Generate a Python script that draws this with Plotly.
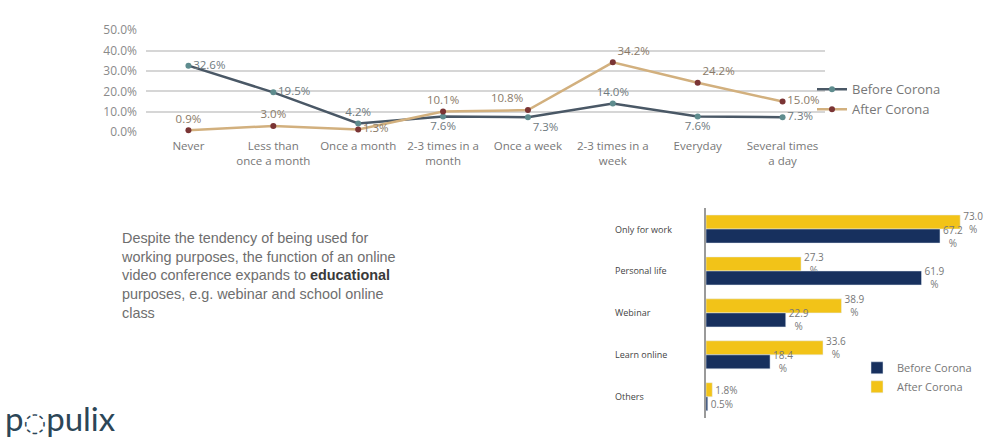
import plotly.graph_objects as go

W, H = 995, 444

# ---------------- data ----------------
freq_categories = ["Never", "Less than<br>once a month", "Once a month", "2-3 times in a<br>month",
                   "Once a week", "2-3 times in a<br>week", "Everyday", "Several times<br>a day"]
freq_before = [32.6, 19.5, 4.2, 7.6, 7.3, 14.0, 7.6, 7.3]
freq_after = [0.9, 3.0, 1.3, 10.1, 10.8, 34.2, 24.2, 15.0]
freq_ticks = [0, 10, 20, 30, 40, 50]

use_categories = ["Only for work", "Personal life", "Webinar", "Learn online", "Others"]
use_before = [67.2, 61.9, 22.9, 18.4, 0.5]
use_after = [73.0, 27.3, 38.9, 33.6, 1.8]

series_names = ["Before Corona", "After Corona"]

paragraph = ("Despite the tendency of being used for<br>working purposes, the function of an online<br>"
             "video conference expands to <b><span style='color:#3a3a3a'>educational</span></b><br>"
             "purposes, e.g. webinar and school online<br>class")
logo_text = "p<span style='font-size:26px;font-family:DejaVu Sans'>◌</span>pulix"

# ---------------- styles ----------------
pos_before = ["middle right", "middle right", "top center", "bottom center",
              "bottom right", "top center", "bottom center", "middle right"]
pos_after = ["top center", "top center", "middle right", "top center",
             "top left", "top right", "top right", "middle right"]

def px_x(p):
    return p / W

def px_y(p):
    return (H - p) / H

fig = go.Figure()

# ---- line chart ----
fig.add_trace(go.Scatter(
    x=freq_categories, y=freq_before, name=series_names[0], mode="lines+markers+text",
    line=dict(color="#4a5866", width=2.5),
    marker=dict(color="#5e8c8e", size=6),
    text=[f"{v:.1f}%" for v in freq_before], textposition=pos_before,
    textfont=dict(size=11.5, color="#6f7a80", family="Open Sans"),
    xaxis="x", yaxis="y", legend="legend", cliponaxis=False,
))
fig.add_trace(go.Scatter(
    x=freq_categories, y=freq_after, name=series_names[1], mode="lines+markers+text",
    line=dict(color="#d2b07e", width=2.5),
    marker=dict(color="#7a3434", size=6),
    text=[f"{v:.1f}%" for v in freq_after], textposition=pos_after,
    textfont=dict(size=11.5, color="#8a7a68", family="Open Sans"),
    xaxis="x", yaxis="y", legend="legend", cliponaxis=False,
))

# ---- bar chart ----
def bar_labels(vals):
    return [f"{v:.1f}%" if v < 5 else f"{v:.1f}<br>%" for v in vals]

fig.add_trace(go.Bar(
    y=use_categories, x=use_after, name=series_names[1], orientation="h",
    marker=dict(color="#f2c318"),
    text=bar_labels(use_after), textposition="outside", constraintext="none",
    textfont=dict(size=10, color="#777777", family="Open Sans"),
    xaxis="x2", yaxis="y2", legend="legend2", legendrank=2, cliponaxis=False,
))
fig.add_trace(go.Bar(
    y=use_categories, x=use_before, name=series_names[0], orientation="h",
    marker=dict(color="#17305e"),
    text=bar_labels(use_before), textposition="outside", constraintext="none",
    textfont=dict(size=10, color="#777777", family="Open Sans"),
    xaxis="x2", yaxis="y2", legend="legend2", legendrank=1, cliponaxis=False,
))

annotations = []
for c in use_categories:
    annotations.append(dict(
        x=px_x(613), xref="paper", y=c, yref="y2", text=c, showarrow=False,
        xanchor="left", yanchor="middle",
        font=dict(size=9, color="#444444", family="Open Sans"),
    ))

annotations.append(dict(
    x=px_x(119), xref="paper", y=px_y(228), yref="paper", text=paragraph, showarrow=False,
    xanchor="left", yanchor="top", align="left",
    font=dict(size=14.4, color="#6e6e6e", family="Liberation Sans"),
))
annotations.append(dict(
    x=px_x(3), xref="paper", y=px_y(448), yref="paper", text=logo_text, showarrow=False,
    xanchor="left", yanchor="bottom", align="left",
    font=dict(size=33, color="#2c4657", family="Lato"),
))

fig.update_layout(
    width=W, height=H, margin=dict(l=0, r=0, t=0, b=0),
    paper_bgcolor="white", plot_bgcolor="white",
    font=dict(family="Open Sans", color="#777777"),
    barmode="group", bargap=0.33, bargroupgap=0,
    xaxis=dict(domain=[px_x(146), px_x(825)], type="category", range=[-0.5, 7.5],
               showgrid=False, showline=False, zeroline=False, ticks="",
               ticklabelstandoff=5,
               tickfont=dict(size=11.5, color="#777777"), anchor="y"),
    yaxis=dict(domain=[px_y(128), px_y(22)], range=[0, 50], tickvals=freq_ticks,
               ticktext=[f"{v:.1f}%" for v in freq_ticks],
               showgrid=True, gridcolor="#d6d6d6", gridwidth=2, anchor="x",
               zeroline=False, showline=False, ticks="", ticklabelstandoff=8,
               tickfont=dict(size=12, color="#8a8a8a")),
    xaxis2=dict(domain=[px_x(706), 1.0], range=[0, 83], visible=False, anchor="y2"),
    yaxis2=dict(domain=[px_y(425), px_y(207)], range=[4.5, -0.5], type="category",
                categoryorder="array", categoryarray=use_categories, anchor="x2",
                showticklabels=False, showgrid=False, zeroline=False,
                showline=True, linecolor="#9a9a9a", linewidth=1.5, ticks=""),
    legend=dict(x=px_x(812), y=px_y(68), xanchor="left", yanchor="top",
                bgcolor="rgba(0,0,0,0)", itemwidth=30, tracegroupgap=0,
                font=dict(size=13, color="#777777", family="Open Sans")),
    legend2=dict(x=px_x(857), y=px_y(358), xanchor="left", yanchor="top",
                 bgcolor="rgba(0,0,0,0)", itemwidth=30, traceorder="normal",
                 font=dict(size=11, color="#777777", family="Open Sans")),
    annotations=annotations,
    showlegend=True,
)

fig.write_html("out.html")
